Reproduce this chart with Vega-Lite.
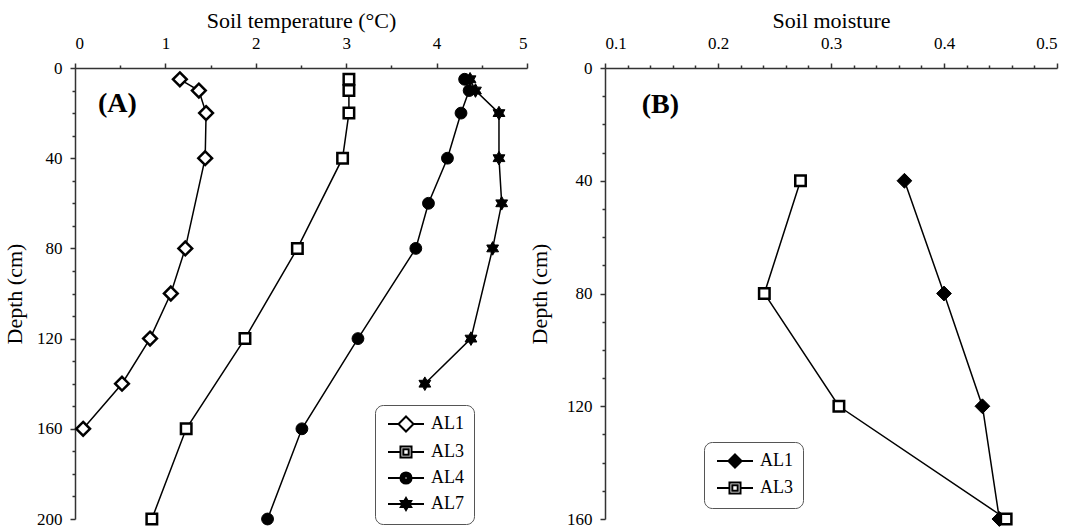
{
  "$schema": "https://vega.github.io/schema/vega-lite/v6.json",
  "background": "white",
  "padding": {"left": 3, "top": 9, "right": 5, "bottom": 5},
  "spacing": 0,
  "config": {
    "view": {"stroke": null},
    "font": "Liberation Serif",
    "axis": {"grid": false}
  },
  "datasets": {
    "temp": [
      {"series": "AL1", "depth": 5, "temp": 1.16},
      {"series": "AL1", "depth": 10, "temp": 1.37},
      {"series": "AL1", "depth": 20, "temp": 1.45},
      {"series": "AL1", "depth": 40, "temp": 1.44},
      {"series": "AL1", "depth": 80, "temp": 1.22},
      {"series": "AL1", "depth": 100, "temp": 1.06},
      {"series": "AL1", "depth": 120, "temp": 0.83},
      {"series": "AL1", "depth": 140, "temp": 0.52},
      {"series": "AL1", "depth": 160, "temp": 0.09},
      {"series": "AL3", "depth": 5, "temp": 3.03},
      {"series": "AL3", "depth": 10, "temp": 3.03},
      {"series": "AL3", "depth": 20, "temp": 3.03},
      {"series": "AL3", "depth": 40, "temp": 2.96},
      {"series": "AL3", "depth": 80, "temp": 2.46},
      {"series": "AL3", "depth": 120, "temp": 1.88},
      {"series": "AL3", "depth": 160, "temp": 1.23},
      {"series": "AL3", "depth": 200, "temp": 0.85},
      {"series": "AL4", "depth": 5, "temp": 4.31},
      {"series": "AL4", "depth": 10, "temp": 4.36},
      {"series": "AL4", "depth": 20, "temp": 4.27},
      {"series": "AL4", "depth": 40, "temp": 4.12},
      {"series": "AL4", "depth": 60, "temp": 3.91},
      {"series": "AL4", "depth": 80, "temp": 3.77},
      {"series": "AL4", "depth": 120, "temp": 3.13},
      {"series": "AL4", "depth": 160, "temp": 2.51},
      {"series": "AL4", "depth": 200, "temp": 2.13},
      {"series": "AL7", "depth": 5, "temp": 4.37},
      {"series": "AL7", "depth": 10, "temp": 4.43},
      {"series": "AL7", "depth": 20, "temp": 4.69},
      {"series": "AL7", "depth": 40, "temp": 4.69},
      {"series": "AL7", "depth": 60, "temp": 4.72},
      {"series": "AL7", "depth": 80, "temp": 4.62},
      {"series": "AL7", "depth": 120, "temp": 4.38},
      {"series": "AL7", "depth": 140, "temp": 3.87}
    ],
    "moist": [
      {"series": "AL1", "depth": 40, "moisture": 0.365},
      {"series": "AL1", "depth": 80, "moisture": 0.400},
      {"series": "AL1", "depth": 120, "moisture": 0.434},
      {"series": "AL1", "depth": 160, "moisture": 0.449},
      {"series": "AL3", "depth": 40, "moisture": 0.273},
      {"series": "AL3", "depth": 80, "moisture": 0.241},
      {"series": "AL3", "depth": 120, "moisture": 0.307},
      {"series": "AL3", "depth": 160, "moisture": 0.455}
    ]
  },
  "resolve": {"scale": {"shape": "independent"}, "legend": {"shape": "independent"}},
  "hconcat": [
    {
      "width": 452, "height": 451,
      "data": {"name": "temp"},
      "resolve": {"axis": {"x": "independent", "y": "independent"}},
      "layer": [
        {
          "mark": {"type": "line", "color": "black", "strokeWidth": 1.5},
          "encoding": {
            "x": {"field": "temp", "type": "quantitative", "scale": {"domain": [0, 5], "nice": false, "zero": false},
                  "axis": {"orient": "top", "title": "Soil temperature (°C)", "values": [0, 1, 2, 3, 4, 5], "tickSize": 5, "labelPadding": 11, "titlePadding": 2,
                           "labelFont": "Liberation Serif", "labelFontSize": 17, "labelColor": "black", "titleFont": "Liberation Serif", "titleFontSize": 22, "titleFontWeight": "normal", "titleColor": "black",
                           "domainColor": "#333", "domainWidth": 1.5, "tickColor": "#333", "tickWidth": 1.5}},
            "y": {"field": "depth", "type": "quantitative", "scale": {"domain": [0, 200], "reverse": true, "nice": false},
                  "axis": {"orient": "left", "title": "Depth (cm)", "values": [0, 40, 80, 120, 160, 200], "tickSize": 5, "labelPadding": 8, "titlePadding": 10,
                           "labelFont": "Liberation Serif", "labelFontSize": 17, "labelColor": "black", "titleFont": "Liberation Serif", "titleFontSize": 22, "titleFontWeight": "normal", "titleColor": "black",
                           "domainColor": "#333", "domainWidth": 1.5, "tickColor": "#333", "tickWidth": 1.5}},
            "detail": {"field": "series"},
            "order": {"field": "depth"}
          }
        },
        {
          "transform": [{"filter": {"field": "series", "equal": "AL1"}}],
          "mark": {"type": "point", "shape": "M0,-1.25L1.25,0L0,1.25L-1.25,0Z", "filled": true, "fill": "white", "stroke": "black", "strokeWidth": 2.5, "size": 121, "opacity": 1, "clip": false},
          "encoding": {
            "x": {"field": "temp", "type": "quantitative",
                  "axis": {"orient": "top", "title": null, "labels": false, "domain": false, "tickSize": 3, "tickColor": "#333", "tickWidth": 1.5, "values": [0.5, 1.5, 2.5, 3.5, 4.5]}},
            "y": {"field": "depth", "type": "quantitative",
                  "axis": {"orient": "left", "title": null, "labels": false, "domain": false, "tickSize": 3, "tickColor": "#333", "tickWidth": 1.5, "values": [10, 20, 30, 50, 60, 70, 90, 100, 110, 130, 140, 150, 170, 180, 190]}}
          }
        },
        {
          "transform": [{"filter": {"field": "series", "equal": "AL3"}}],
          "mark": {"type": "point", "shape": "square", "filled": true, "fill": "white", "stroke": "black", "strokeWidth": 2.5, "size": 110, "opacity": 1, "clip": false},
          "encoding": {
            "x": {"field": "temp", "type": "quantitative", "axis": null},
            "y": {"field": "depth", "type": "quantitative", "axis": null}
          }
        },
        {
          "transform": [{"filter": {"field": "series", "equal": "AL4"}}],
          "mark": {"type": "point", "shape": "circle", "filled": true, "fill": "black", "stroke": "black", "strokeWidth": 1, "size": 140, "opacity": 1, "clip": false},
          "encoding": {
            "x": {"field": "temp", "type": "quantitative", "axis": null},
            "y": {"field": "depth", "type": "quantitative", "axis": null}
          }
        },
        {
          "transform": [{"filter": {"field": "series", "equal": "AL7"}}],
          "mark": {"type": "point", "shape": "M0,-1.15L0.332,-0.575L0.996,-0.575L0.664,0L0.996,0.575L0.332,0.575L0,1.15L-0.332,0.575L-0.996,0.575L-0.664,0L-0.996,-0.575L-0.332,-0.575Z", "filled": true, "fill": "black", "stroke": "black", "strokeWidth": 1, "size": 140, "opacity": 1, "clip": false},
          "encoding": {
            "x": {"field": "temp", "type": "quantitative", "axis": null},
            "y": {"field": "depth", "type": "quantitative", "axis": null}
          }
        },
        {
          "mark": {"type": "point", "filled": false, "color": "black", "strokeWidth": 2, "opacity": 0},
          "encoding": {
            "x": {"field": "temp", "type": "quantitative", "axis": null},
            "y": {"field": "depth", "type": "quantitative", "axis": null},
            "shape": {"field": "series", "type": "nominal",
                      "scale": {"domain": ["AL1", "AL3", "AL4", "AL7"],
                                "range": ["M-1,0H0.75M3.25,0H5M2,-1.25L3.25,0L2,1.25L0.75,0Z",
                                          "M-1,0H1.08M2.92,0H5M1.08,-0.92H2.92V0.92H1.08ZM1.55,-0.45H2.45V0.45H1.55Z",
                                          "M-1,0H1.07M2.93,0H5M2.93,0A0.93,0.93,0,1,1,1.07,0A0.93,0.93,0,1,1,2.93,0ZM2.62,0A0.62,0.62,0,1,1,1.38,0A0.62,0.62,0,1,1,2.62,0ZM2.31,0A0.31,0.31,0,1,1,1.69,0A0.31,0.31,0,1,1,2.31,0ZM2.05,0A0.05,0.05,0,1,1,1.95,0A0.05,0.05,0,1,1,2.05,0Z",
                                          "M-1,0H5M2,-1L2.289,-0.5L2.866,-0.5L2.577,0L2.866,0.5L2.289,0.5L2,1L1.711,0.5L1.134,0.5L1.423,0L1.134,-0.5L1.711,-0.5ZM2,-0.6L2.173,-0.3L2.52,-0.3L2.346,0L2.52,0.3L2.173,0.3L2,0.6L1.827,0.3L1.48,0.3L1.654,0L1.48,-0.3L1.827,-0.3ZM2,-0.25L2.072,-0.125L2.217,-0.125L2.144,0L2.217,0.125L2.072,0.125L2,0.25L1.928,0.125L1.783,0.125L1.856,0L1.783,-0.125L1.928,-0.125Z"]},
                      "legend": {"title": null, "orient": "none", "legendX": 300, "legendY": 337,
                                 "strokeColor": "#555", "cornerRadius": 8, "padding": 10, "rowPadding": 6,
                                 "symbolSize": 144, "labelOffset": 28, "symbolOpacity": 1,
                                 "symbolStrokeColor": "black", "symbolStrokeWidth": 2,
                                 "labelFont": "Liberation Serif", "labelFontSize": 18, "labelColor": "black"}}
          }
        },
        {
          "data": {"values": [{"panel": "(A)"}]},
          "mark": {"type": "text", "font": "Liberation Serif", "fontSize": 28, "fontWeight": "bold", "color": "black", "align": "center", "baseline": "middle"},
          "encoding": {
            "x": {"datum": 0.47, "type": "quantitative", "axis": null},
            "y": {"datum": 16, "type": "quantitative", "axis": null},
            "text": {"field": "panel"}
          }
        }
      ]
    },
    {
      "width": 452, "height": 451,
      "data": {"name": "moist"},
      "resolve": {"axis": {"x": "independent", "y": "independent"}},
      "layer": [
        {
          "mark": {"type": "line", "color": "black", "strokeWidth": 1.5},
          "encoding": {
            "x": {"field": "moisture", "type": "quantitative", "scale": {"domain": [0.1, 0.5], "nice": false, "zero": false},
                  "axis": {"orient": "top", "title": "Soil moisture", "values": [0.1, 0.2, 0.3, 0.4, 0.5], "format": ".1f", "tickSize": 5, "labelPadding": 11, "titlePadding": 2,
                           "labelFont": "Liberation Serif", "labelFontSize": 17, "labelColor": "black", "titleFont": "Liberation Serif", "titleFontSize": 22, "titleFontWeight": "normal", "titleColor": "black",
                           "domainColor": "#333", "domainWidth": 1.5, "tickColor": "#333", "tickWidth": 1.5}},
            "y": {"field": "depth", "type": "quantitative", "scale": {"domain": [0, 160], "reverse": true, "nice": false},
                  "axis": {"orient": "left", "title": "Depth (cm)", "values": [0, 40, 80, 120, 160], "tickSize": 5, "labelPadding": 8, "titlePadding": 15,
                           "labelFont": "Liberation Serif", "labelFontSize": 17, "labelColor": "black", "titleFont": "Liberation Serif", "titleFontSize": 22, "titleFontWeight": "normal", "titleColor": "black",
                           "domainColor": "#333", "domainWidth": 1.5, "tickColor": "#333", "tickWidth": 1.5}},
            "detail": {"field": "series"},
            "order": {"field": "depth"}
          }
        },
        {
          "transform": [{"filter": {"field": "series", "equal": "AL1"}}],
          "mark": {"type": "point", "shape": "M0,-1.25L1.25,0L0,1.25L-1.25,0Z", "filled": true, "fill": "black", "stroke": "black", "strokeWidth": 1, "size": 140, "opacity": 1, "clip": false},
          "encoding": {
            "x": {"field": "moisture", "type": "quantitative",
                  "axis": {"orient": "top", "title": null, "labels": false, "domain": false, "tickSize": 3, "tickColor": "#333", "tickWidth": 1.5,
                           "values": [0.12, 0.14, 0.16, 0.18, 0.22, 0.24, 0.26, 0.28, 0.32, 0.34, 0.36, 0.38, 0.42, 0.44, 0.46, 0.48]}},
            "y": {"field": "depth", "type": "quantitative",
                  "axis": {"orient": "left", "title": null, "labels": false, "domain": false, "tickSize": 3, "tickColor": "#333", "tickWidth": 1.5, "values": [10, 20, 30, 50, 60, 70, 90, 100, 110, 130, 140, 150]}}
          }
        },
        {
          "transform": [{"filter": {"field": "series", "equal": "AL3"}}],
          "mark": {"type": "point", "shape": "square", "filled": true, "fill": "white", "stroke": "black", "strokeWidth": 2.5, "size": 110, "opacity": 1, "clip": false},
          "encoding": {
            "x": {"field": "moisture", "type": "quantitative", "axis": null},
            "y": {"field": "depth", "type": "quantitative", "axis": null}
          }
        },
        {
          "mark": {"type": "point", "filled": false, "color": "black", "strokeWidth": 2, "opacity": 0},
          "encoding": {
            "x": {"field": "moisture", "type": "quantitative", "axis": null},
            "y": {"field": "depth", "type": "quantitative", "axis": null},
            "shape": {"field": "series", "type": "nominal",
                      "scale": {"domain": ["AL1", "AL3"],
                                "range": ["M-1,0H5M2,-1.1L3.1,0L2,1.1L0.9,0ZM2,-0.75L2.75,0L2,0.75L1.25,0ZM2,-0.4L2.4,0L2,0.4L1.6,0ZM2,-0.08L2.08,0L2,0.08L1.92,0Z",
                                          "M-1,0H1.08M2.92,0H5M1.08,-0.92H2.92V0.92H1.08ZM1.55,-0.45H2.45V0.45H1.55Z"]},
                      "legend": {"title": null, "orient": "none", "legendX": 99, "legendY": 374,
                                 "strokeColor": "#555", "cornerRadius": 8, "padding": 10, "rowPadding": 6,
                                 "symbolSize": 144, "labelOffset": 28, "symbolOpacity": 1,
                                 "symbolStrokeColor": "black", "symbolStrokeWidth": 2,
                                 "labelFont": "Liberation Serif", "labelFontSize": 18, "labelColor": "black"}}
          }
        },
        {
          "data": {"values": [{"panel": "(B)"}]},
          "mark": {"type": "text", "font": "Liberation Serif", "fontSize": 28, "fontWeight": "bold", "color": "black", "align": "center", "baseline": "middle"},
          "encoding": {
            "x": {"datum": 0.149, "type": "quantitative", "axis": null},
            "y": {"datum": 13, "type": "quantitative", "axis": null},
            "text": {"field": "panel"}
          }
        }
      ]
    }
  ]
}
